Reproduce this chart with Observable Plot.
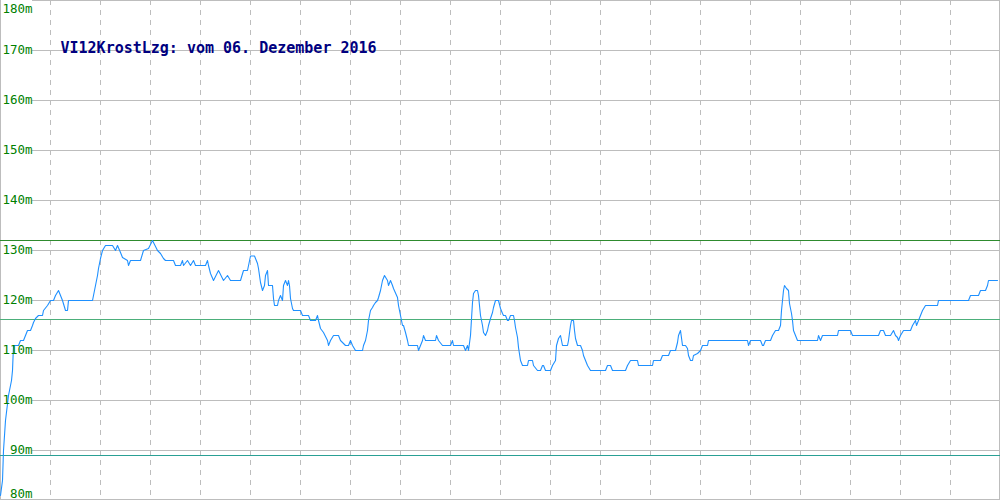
<!DOCTYPE html>
<html>
<head>
<meta charset="utf-8">
<script src="https://cdn.jsdelivr.net/npm/d3@7"></script>
<script src="https://cdn.jsdelivr.net/npm/@observablehq/plot@0.6"></script>
<style>
  html, body { margin: 0; padding: 0; background: #fff; }
  svg { display: block; }
</style>
</head>
<body>
<div id="chart"></div>
<script>
const title = "VI12KrostLzg: vom 06. Dezember 2016";
const yTicks = [80, 90, 100, 110, 120, 130, 140, 150, 160, 170, 180];
const xGrid = [50, 100, 150, 200, 250, 300, 350, 400, 450, 500, 550, 600, 650, 700, 750, 800, 850, 900, 950];
const refHigh = 132;
const refMid = 116.2;
const refLow = 89;

const sampleX = [
  0,2,3,5,8,11,12,13,18,20,23,25,27,30,32,33,35,38,42,43,47,50,53,55,58,62,65,67,68,92,93,95,97,98,100,102,105,112,115,117,120,122,127,128,130,140,143,148,152,157,160,163,165,173,175,180,182,183,187,190,193,195,205,207,208,210,213,218,223,227,230,240,243,247,
  250,254,257,258,260,262,264,265,267,268,272,273,274,277,278,280,282,283,285,287,288,289,290,292,293,300,302,308,310,315,317,318,320,323,327,328,330,333,338,340,343,345,348,350,352,355,362,363,365,367,368,370,372,373,375,377,378,380,382,384,387,388,390,392,393,397,398,400,402,403,405,407,408,417,418,420,422,423,425,435,436,438,442,450,452,453,463,465,467,468,470,472,473,475,477,478,480,482,483,485,487,488,490,492,493,495,498,
  500,502,503,505,507,508,510,513,514,515,517,518,520,522,527,528,532,533,537,540,542,543,545,550,552,555,556,558,560,562,567,568,570,571,573,574,575,577,580,582,583,585,587,590,605,607,610,612,625,627,630,637,638,652,653,660,662,668,670,675,677,678,680,682,685,687,688,690,692,693,697,700,702,707,708,747,748,
  750,760,762,763,765,770,772,775,778,780,781,782,783,784,786,788,789,791,792,793,795,797,817,818,820,822,837,838,850,852,878,880,883,885,890,893,895,897,898,900,903,910,912,915,916,918,920,922,925,937,938,968,970,978,980,985,987,988,997
];
const level = [
  81,84,90,96,101,104,106,111,111,112,112,113,114,114,115,115.6,116.4,117,117,118,119,120,120,121,122,120,118,118,120,120,121,123,125,126.4,128.4,130,131,131,130,131,129.6,128.6,128,127,128,128,130,130.4,132,130,129.4,128.4,128,128,127,127,128,127,128,127,128,127,127,128,127,125.4,124,126,124,125,124,124,126,126,
  128.9,128.9,127.4,126.4,123.6,122,123,125,126,123,123,120.4,119,119,120,121,120,123,124,123,124,123,120.4,118.4,118,118,117,117,116,116,117,116,114.4,113.6,112,111,112,113,113,112,111.4,111,111,112,111,110,110,111,112,114,116,118,118.6,119,119.6,120,120.6,122,124,125,124,123,124,123,122.4,120.6,119,117,115,115,113.6,112,111,111,110,111,112,113,112,112,113,112,111,111,112,111,111,110,111,110,113,119.6,121.4,122,122,121,117,115,113.6,113,114,115,116.4,117.6,118.6,120,120,
  118.4,117.4,117,117,116,116,117,117,116,114.6,112.6,110.6,108,107,107,108,108,107,106,106,107,107,106,106,107,108,111,112.4,113,111,111,112,115,116,116,114,112.4,111,111,110,109,108,107,106,106,107,107,106,106,107,108,108,107,107,108,108,109,109,110,110,111.6,113,114,111,111,110.4,109,108,108,109,109.4,110,111,111,112,112,111,
  112,112,111,111,112,112,113,114,114,115,118,120,122,123,122.4,122,119.4,117.4,116,114,113,112,112,113,112,113,113,114,114,113,113,114,114,113,113,114,113,112.6,112,113,114,114,115,116,115,116,117,118,119,119,120,120,121,121,122,122,123,124,124
];

const series = sampleX.map((x, i) => ({x, v: level[i]}));
const midTicks = yTicks.filter(t => t !== 80 && t !== 180);
const mono = "'DejaVu Sans Mono', 'Liberation Mono', monospace";

const chart = Plot.plot({
  width: 1000,
  height: 500,
  marginTop: 0,
  marginBottom: 0,
  marginLeft: 0,
  marginRight: 0,
  x: {domain: [0, 1000], axis: null},
  y: {domain: [80, 180], axis: null},
  style: {background: "#fff", fontFamily: mono},
  marks: [
    Plot.ruleX(xGrid, {stroke: "#bdbdbd", strokeDasharray: "5,5", strokeWidth: 1}),
    Plot.ruleY(yTicks, {x1: 32, x2: 1000, stroke: "#bdbdbd", strokeWidth: 1}),
    Plot.ruleX([0], {stroke: "#bdbdbd"}),
    Plot.ruleX([1000], {stroke: "#bdbdbd", dx: -1}),
    Plot.ruleY([80], {stroke: "#bdbdbd", dy: -1}),
    Plot.ruleY([refHigh], {stroke: "#2e8b2e", strokeWidth: 1}),
    Plot.ruleY([refMid], {stroke: "#4caf7a", strokeWidth: 1}),
    Plot.ruleY([refLow], {stroke: "#2aa094", strokeWidth: 1}),
    Plot.line(series, {x: "x", y: "v", stroke: "#1e90ff", strokeWidth: 1.1}),
    Plot.text(midTicks, {x: 32, y: d => d, text: d => d + "m", textAnchor: "end", lineAnchor: "middle", dy: -1, fill: "#008000", fontSize: 12.5, fontFamily: mono}),
    Plot.text([180], {x: 32, y: d => d, text: d => d + "m", textAnchor: "end", lineAnchor: "middle", dy: 8, fill: "#008000", fontSize: 12.5, fontFamily: mono}),
    Plot.text([80], {x: 32, y: d => d, text: d => d + "m", textAnchor: "end", lineAnchor: "middle", dy: -7, fill: "#008000", fontSize: 12.5, fontFamily: mono}),
    Plot.text([title], {frameAnchor: "top-left", dx: 60, dy: 48, text: d => d, textAnchor: "start", lineAnchor: "middle", fill: "#000080", fontWeight: "bold", fontSize: 15, fontFamily: mono})
  ]
});
document.getElementById("chart").appendChild(chart);
</script>
</body>
</html>
